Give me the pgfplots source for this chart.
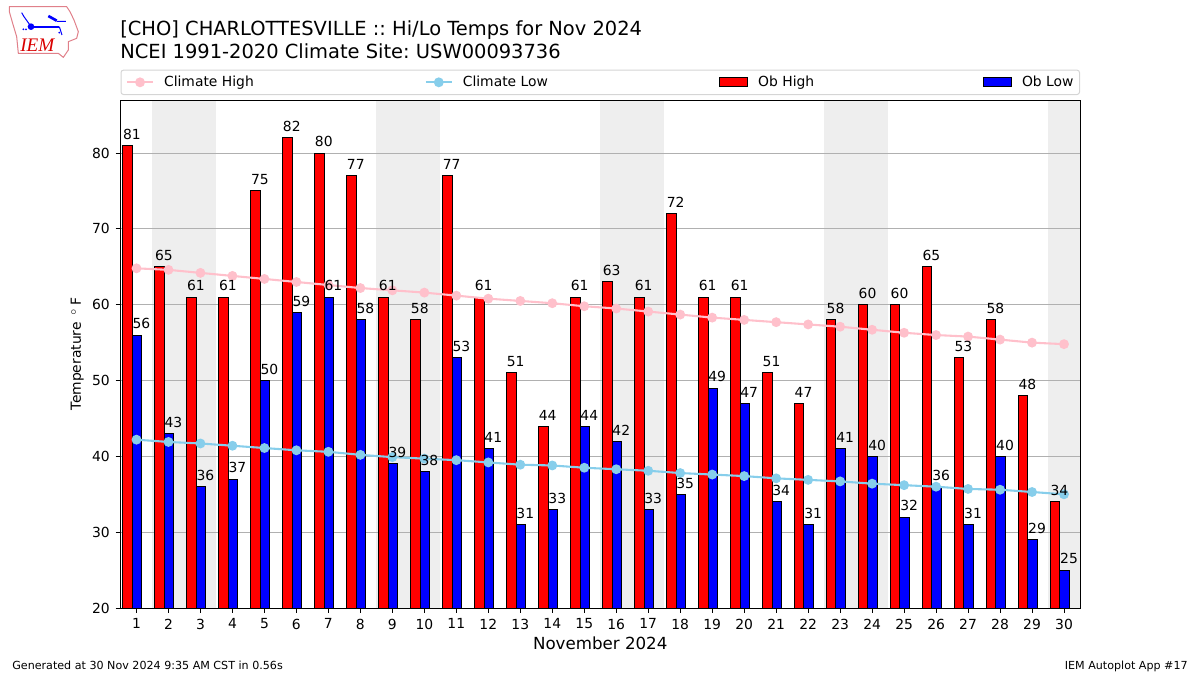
\documentclass[border=0pt]{standalone}
\usepackage{fontspec}
\setmainfont{DejaVu Sans}
\usepackage{pgfplots}
\usepackage{pgfplotstable}
\pgfplotsset{compat=1.18}
\frenchspacing

\definecolor{bandgray}{HTML}{EEEEEE}
\definecolor{gridgray}{HTML}{B0B0B0}
\definecolor{climhi}{HTML}{FFC0CB}
\definecolor{climlo}{HTML}{87CEEB}
\definecolor{legedge}{HTML}{D5D5D5}
\definecolor{logored}{HTML}{E0808A}

\pgfplotsset{
    linehandle/.style={legend image code/.code={\draw[sharp corners,mark repeat=2,mark phase=2,##1] plot coordinates {(0pt,0pt)(7.8pt,0pt)(15.6pt,0pt)};}},
    boxhandle/.style={legend image code/.code={\draw[sharp corners,##1] (0pt,-2.8pt) rectangle (16.8pt,2.8pt);}},
}

\pgfplotstableread{
day high low chigh clow
1  81 56 64.8 42.2
2  65 43 64.6 41.9
3  61 36 64.2 41.7
4  61 37 63.8 41.4
5  75 50 63.4 41.1
6  82 59 63.0 40.8
7  80 61 62.6 40.6
8  77 58 62.2 40.2
9  61 39 61.9 39.9
10 58 38 61.6 39.7
11 77 53 61.2 39.5
12 61 41 60.8 39.2
13 51 31 60.5 38.9
14 44 33 60.2 38.8
15 61 44 59.8 38.5
16 63 42 59.5 38.3
17 61 33 59.1 38.1
18 72 35 58.7 37.8
19 61 49 58.3 37.6
20 61 47 58.0 37.4
21 51 34 57.7 37.1
22 47 31 57.4 36.9
23 58 41 57.1 36.7
24 60 40 56.7 36.4
25 60 32 56.3 36.2
26 65 36 56.0 36.0
27 53 31 55.8 35.7
28 58 40 55.4 35.6
29 48 29 55.0 35.3
30 34 25 54.8 35.0
}\temps

\begin{document}
\begin{tikzpicture}
\path (0,0) rectangle (720pt,405pt);

\begin{axis}[
    at={(72.3pt,40.2pt)}, anchor=south west,
    scale only axis, width=575.7pt, height=304.8pt,
    set layers,
    xmin=0.5, xmax=30.5, ymin=20, ymax=87,
    xtick={1,...,30}, ytick={20,30,...,80},
    tick align=outside, tick pos=left,
    major tick length=2.9pt,
    every tick/.style={black, line width=0.5pt},
    axis line style={line width=0.6pt},
    ymajorgrids,
    grid style={gridgray, line width=0.6pt},
    tick label style={font=\fontsize{8.33}{10}\selectfont},
    /pgf/number format/assume math mode=true,
    xlabel={November 2024},
    xlabel style={font=\fontsize{10}{12}\selectfont, yshift=2.4pt},
    ylabel={Temperature \,$^\circ$\,F},
    ylabel style={font=\fontsize{8.33}{10}\selectfont, yshift=-1.8pt},
    legend columns=4,
    legend cell align=left,
    legend style={
        at={(0,1)}, anchor=south west, yshift=3pt,
        draw=legedge, rounded corners=1.5pt, line width=0.6pt,
        font=\fontsize{8.33}{10}\selectfont,
        inner xsep=3pt, inner ysep=2.4pt,
        nodes={inner xsep=0pt, inner ysep=1pt},
        /tikz/every even column/.append style={column sep=6pt},
    },
]

% legend goes first, real plots are all forget plot
\addlegendimage{linehandle, climhi, line width=1.25pt, mark=*, mark size=2.3pt}
\addlegendentry{\hspace*{6pt}\makebox[150.4pt][l]{Climate High}}
\addlegendimage{linehandle, climlo, line width=1.25pt, mark=*, mark size=2.3pt}
\addlegendentry{\hspace*{6pt}\makebox[147.8pt][l]{Climate Low}}
\addlegendimage{boxhandle, fill=red, draw=black, line width=0.6pt}
\addlegendentry{\hspace*{6pt}\makebox[128.9pt][l]{Ob High}}
\addlegendimage{boxhandle, fill=blue, draw=black, line width=0.6pt}
\addlegendentry{\hspace*{6pt}\makebox[31.5pt][l]{Ob Low}}

% weekend bands
\addplot[fill=bandgray, draw=none, on layer=axis background, forget plot] coordinates {(1.5,20)(1.5,87)(3.5,87)(3.5,20)} --cycle;
\addplot[fill=bandgray, draw=none, on layer=axis background, forget plot] coordinates {(8.5,20)(8.5,87)(10.5,87)(10.5,20)} --cycle;
\addplot[fill=bandgray, draw=none, on layer=axis background, forget plot] coordinates {(15.5,20)(15.5,87)(17.5,87)(17.5,20)} --cycle;
\addplot[fill=bandgray, draw=none, on layer=axis background, forget plot] coordinates {(22.5,20)(22.5,87)(24.5,87)(24.5,20)} --cycle;
\addplot[fill=bandgray, draw=none, on layer=axis background, forget plot] coordinates {(29.5,20)(29.5,87)(30.5,87)(30.5,20)} --cycle;

\addplot[ybar, bar width=0.3, bar shift=-0.28, fill=red, draw=black, line width=0.6pt, forget plot] table[x=day, y=high] {\temps};
\addplot[ybar, bar width=0.3, bar shift=0.02, fill=blue, draw=black, line width=0.6pt, forget plot] table[x=day, y=low] {\temps};

\addplot[climhi, line width=1.25pt, mark=*, mark size=2.3pt, forget plot] table[x=day, y=chigh] {\temps};
\addplot[climlo, line width=1.25pt, mark=*, mark size=2.3pt, forget plot] table[x=day, y=clow] {\temps};

% value labels start at the left edge of each bar
\addplot[draw=none, mark=none, forget plot, point meta=y,
    nodes near coords={\pgfmathprintnumber{\pgfplotspointmeta}},
    every node near coord/.style={anchor=south west, inner xsep=0pt, inner ysep=3.4pt, black, font=\fontsize{8.33}{10}\selectfont}]
    table[x expr=\thisrow{day}-0.43, y=high] {\temps};
\addplot[draw=none, mark=none, forget plot, point meta=y,
    nodes near coords={\pgfmathprintnumber{\pgfplotspointmeta}},
    every node near coord/.style={anchor=south west, inner xsep=0pt, inner ysep=3.4pt, black, font=\fontsize{8.33}{10}\selectfont}]
    table[x expr=\thisrow{day}-0.13, y=low] {\temps};
\end{axis}

% titles and footers
\node[anchor=base west, inner sep=0pt, font=\fontsize{11.67}{14}\selectfont] at (72pt,383.4pt) {[CHO] CHARLOTTESVILLE :: Hi/Lo Temps for Nov 2024};
\node[anchor=base west, inner sep=0pt, font=\fontsize{11.67}{14}\selectfont] at (72pt,369.6pt) {NCEI 1991-2020 Climate Site: USW00093736};
\node[anchor=base west, inner sep=0pt, font=\fontsize{6.67}{8}\selectfont] at (7.2pt,3.3pt) {Generated at 30 Nov 2024 9:35 AM CST in 0.56s};
\node[anchor=base east, inner sep=0pt, font=\fontsize{6.67}{8}\selectfont] at (712.8pt,3.3pt) {IEM Autoplot App \#17};

% logo, coordinates taken from a 3x crop
\begin{scope}[shift={(0pt,405pt)}, x=0.2pt, y=-0.2pt]
\draw[logored, line width=0.6pt, line join=round] (28,20)--(200,20)--(210,35)--(222,60)--(235,95)--(230,115)--(205,125)--(205,150)--(190,172)--(175,160)--(55,160)--(50,110)--(38,70)--(28,35)--cycle;
\draw[blue, line width=1.2pt] (92,80)--(176,80);
\draw[blue, line width=0.6pt] (65,38)--(72,50)--(92,78) (178,80)--(186,105) (170,64)--(198,64);
\draw[blue, line width=1.6pt] (145,48)--(170,62);
\fill[blue] (93,80) circle (10);
\fill[blue] (70,88) circle (3) (78,88) circle (3) (178,98) circle (3);
\node[red!85!black, anchor=base, inner sep=0pt, font=\fontspec{Liberation Serif}\itshape\fontsize{11.5}{14}\selectfont] at (112,155) {IEM};
\end{scope}
\end{tikzpicture}
\end{document}
